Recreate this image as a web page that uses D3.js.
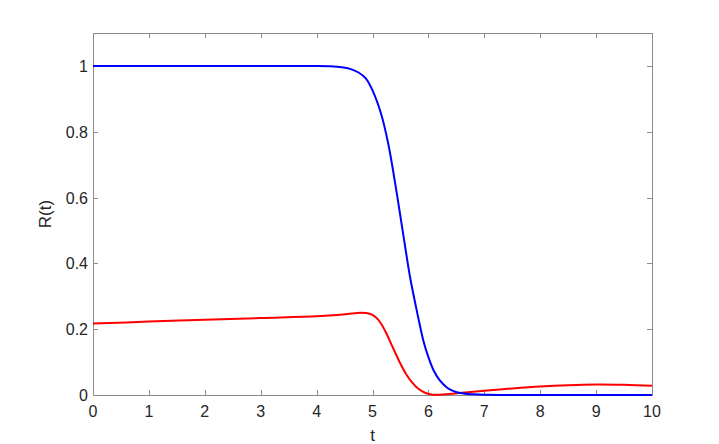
<!DOCTYPE html>
<html>
<head>
<meta charset="utf-8">
<script src="https://cdn.jsdelivr.net/npm/d3@7"></script>
<style>
  body { margin: 0; background: #fff; }
  text { font-family: "Liberation Sans", Arial, sans-serif; fill: #262626; }
</style>
</head>
<body>
<div id="chart"></div>
<script>
// blue curve samples (t, R)
var blueT = [0, 1, 2, 3, 4, 4.25, 4.45, 4.6, 4.75, 4.88, 5.01, 5.16, 5.28, 5.37, 5.49, 5.58, 5.67, 5.79, 5.91, 6.0, 6.09, 6.2, 6.33, 6.45, 6.57, 6.8, 7, 8, 9, 10];
var blueR = [1, 1, 1, 1, 1, 0.999, 0.996, 0.991, 0.98, 0.962, 0.922, 0.851, 0.765, 0.68, 0.553, 0.455, 0.36, 0.258, 0.165, 0.115, 0.076, 0.045, 0.023, 0.012, 0.006, 0.002, 0.0005, 0, 0, 0];

// red curve samples (t, R)
var redT = [0, 1, 2, 3, 4, 4.3, 4.55, 4.8, 4.95, 5.06, 5.16, 5.26, 5.37, 5.5, 5.6, 5.7, 5.82, 5.95, 6.08, 6.3, 6.6, 7, 7.5, 8, 8.5, 9, 9.5, 10];
var redR = [0.217, 0.223, 0.229, 0.234, 0.239, 0.242, 0.246, 0.25, 0.247, 0.236, 0.215, 0.183, 0.142, 0.095, 0.064, 0.04, 0.019, 0.006, 0.001, 0.002, 0.007, 0.013, 0.02, 0.026, 0.030, 0.032, 0.031, 0.028];

var xTicks = [0, 1, 2, 3, 4, 5, 6, 7, 8, 9, 10];
var yTicks = [0, 0.2, 0.4, 0.6, 0.8, 1];

var width = 719, height = 444;
var mLeft = 93, mRight = 652, mTop = 33, mBottom = 395;

var svg = d3.select("#chart").append("svg")
  .attr("width", width)
  .attr("height", height);

var x = d3.scaleLinear().domain([0, 10]).range([mLeft, mRight]);
var y = d3.scaleLinear().domain([0, 1.1]).range([mBottom, mTop]);

var axisColor = "#8c8c8c";
var tickLen = 5;

// box
svg.append("rect")
  .attr("x", mLeft + 0.5).attr("y", mTop + 0.5)
  .attr("width", mRight - mLeft).attr("height", mBottom - mTop)
  .attr("fill", "none").attr("stroke", axisColor).attr("stroke-width", 1);

// x ticks (bottom + top, inward)
xTicks.forEach(function(t) {
  var px = Math.round(x(t)) + 0.5;
  svg.append("line").attr("x1", px).attr("x2", px)
    .attr("y1", mBottom).attr("y2", mBottom - tickLen)
    .attr("stroke", axisColor);
  svg.append("line").attr("x1", px).attr("x2", px)
    .attr("y1", mTop).attr("y2", mTop + tickLen)
    .attr("stroke", axisColor);
  svg.append("text")
    .attr("x", x(t)).attr("y", mBottom + 22)
    .attr("text-anchor", "middle")
    .attr("font-size", 16)
    .text(d3.format("d")(t));
});

// y ticks (left + right, inward)
yTicks.forEach(function(v) {
  var py = Math.round(y(v)) + 0.5;
  svg.append("line").attr("x1", mLeft).attr("x2", mLeft + tickLen)
    .attr("y1", py).attr("y2", py).attr("stroke", axisColor);
  svg.append("line").attr("x1", mRight).attr("x2", mRight - tickLen)
    .attr("y1", py).attr("y2", py).attr("stroke", axisColor);
  svg.append("text")
    .attr("x", mLeft - 5).attr("y", y(v) + 6)
    .attr("text-anchor", "end")
    .attr("font-size", 16)
    .text(v === 0 ? "0" : v === 1 ? "1" : d3.format(".1f")(v));
});

// labels
svg.append("text")
  .attr("x", x(5)).attr("y", 441)
  .attr("text-anchor", "middle")
  .attr("font-size", 17)
  .text("t");

svg.append("text")
  .attr("transform", "translate(51," + y(0.55) + ") rotate(-90)")
  .attr("text-anchor", "middle")
  .attr("font-size", 17)
  .text("R(t)");

var line = d3.line()
  .x(function(d) { return x(d[0]); })
  .y(function(d) { return y(Math.max(0, d[1])); })
  .curve(d3.curveCatmullRom.alpha(0.5));

var blue = blueT.map(function(t, i) { return [t, blueR[i]]; });
var red = redT.map(function(t, i) { return [t, redR[i]]; });

svg.append("path").datum(red)
  .attr("d", line).attr("fill", "none")
  .attr("stroke", "#ff0000").attr("stroke-width", 2);

svg.append("path").datum(blue)
  .attr("d", line).attr("fill", "none")
  .attr("stroke", "#0000ff").attr("stroke-width", 2);
</script>
</body>
</html>
